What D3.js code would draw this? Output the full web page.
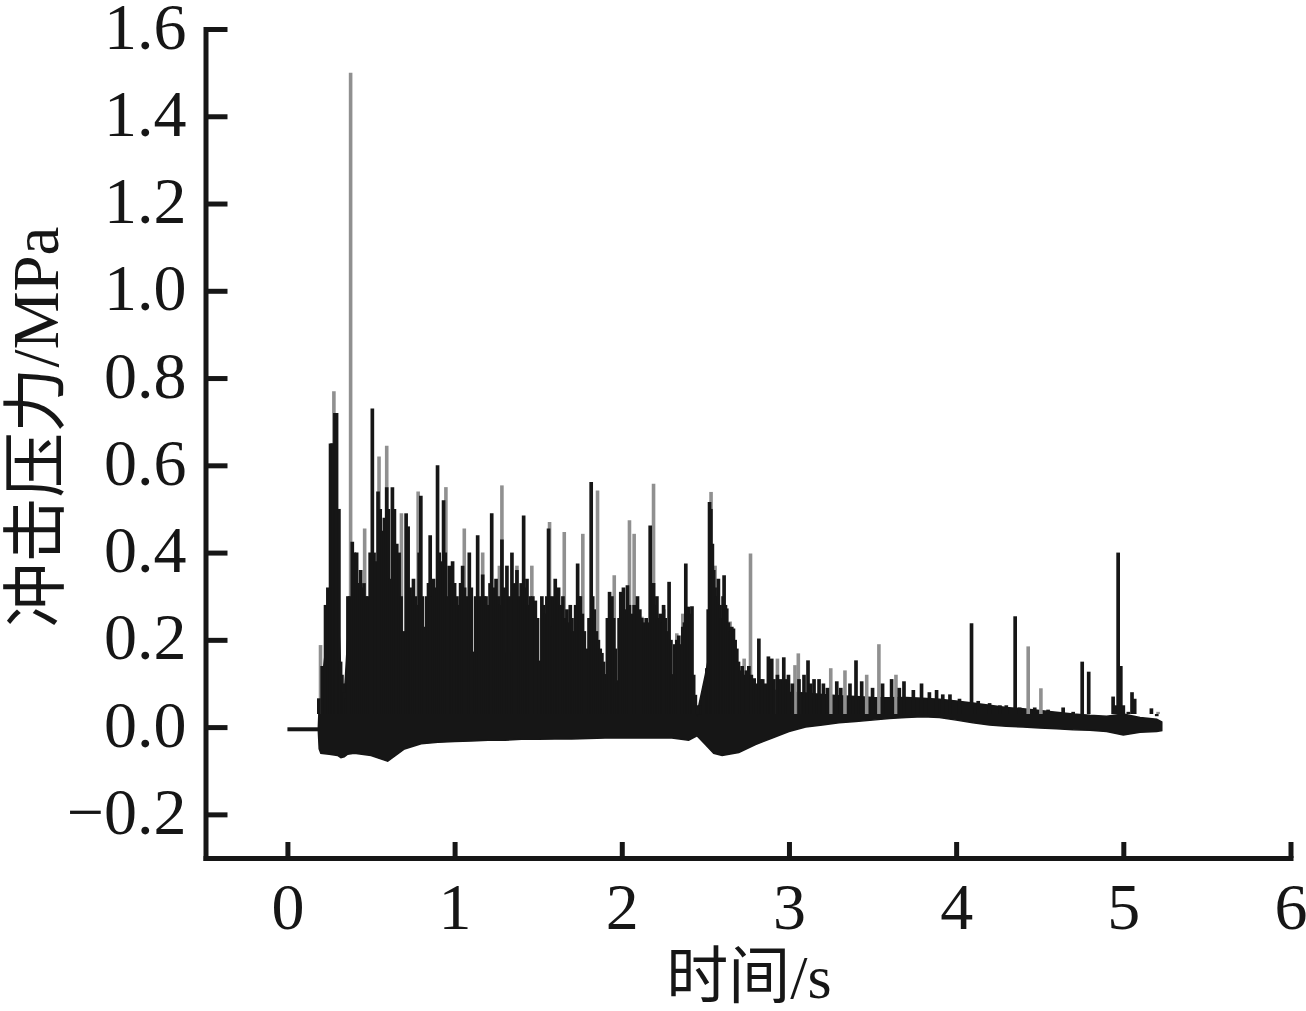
<!DOCTYPE html>
<html>
<head>
<meta charset="utf-8">
<script src="https://cdn.jsdelivr.net/npm/d3@7/dist/d3.min.js"></script>
<style>
  html, body { margin: 0; padding: 0; background: #ffffff; }
  svg { display: block; }
</style>
</head>
<body>
<script>
// ---------- data ----------
const xTicks = [0, 1, 2, 3, 4, 5, 6];
const xTickLabels = ["0", "1", "2", "3", "4", "5", "6"];
const yTicks = [-0.2, 0, 0.2, 0.4, 0.6, 0.8, 1.0, 1.2, 1.4, 1.6];
const yTickLabels = ["\u22120.2", "0.0", "0.2", "0.4", "0.6", "0.8", "1.0", "1.2", "1.4", "1.6"];
const xTitle = "时间/s";
const yTitle = "冲击压力/MPa";

// quiet pre-trigger baseline
const flatT = [0, 0.185];
const flatV = [-0.005, -0.005];

// dense core of the oscillating signal (envelope)
const bandT  = [0.185,0.19,0.2,0.25,0.3,0.32,0.34,0.36,0.4,0.5,0.6,0.7,0.8,0.9,1.0,1.1,1.2,1.3,1.4,1.5,1.6,1.7,1.8,1.9,2.0,2.1,2.2,2.3,2.4,2.45,2.5,2.55,2.6,2.7,2.8,2.9,3.0,3.1,3.2,3.3,3.4,3.5,3.6,3.7,3.8,3.9,4.0,4.1,4.2,4.3,4.4,4.5,4.6,4.7,4.8,4.9,5.0,5.1,5.2,5.23];
const bandHi = [0.0,0.05,0.08,0.25,0.3,0.12,0.07,0.2,0.22,0.24,0.25,0.2,0.22,0.22,0.22,0.17,0.18,0.17,0.17,0.15,0.16,0.15,0.15,0.12,0.1,0.13,0.13,0.12,0.08,0.03,0.12,0.22,0.2,0.12,0.09,0.085,0.08,0.078,0.075,0.072,0.07,0.068,0.067,0.068,0.066,0.064,0.06,0.055,0.05,0.045,0.042,0.038,0.034,0.03,0.027,0.025,0.03,0.022,0.018,0.012];
const bandLo = [-0.01,-0.05,-0.06,-0.062,-0.065,-0.07,-0.068,-0.062,-0.06,-0.065,-0.078,-0.05,-0.038,-0.035,-0.033,-0.032,-0.03,-0.03,-0.028,-0.028,-0.027,-0.027,-0.026,-0.025,-0.025,-0.025,-0.025,-0.025,-0.03,-0.02,-0.04,-0.06,-0.065,-0.058,-0.04,-0.025,-0.01,0.0,0.005,0.01,0.013,0.016,0.02,0.022,0.024,0.022,0.016,0.01,0.005,0.002,0.0,-0.002,-0.004,-0.006,-0.007,-0.01,-0.018,-0.012,-0.01,-0.008];

// individual peaks (black)
const peakT = [0.188,0.208,0.228,0.242,0.258,0.266,0.274,0.284,0.294,0.308,0.318,0.326,0.334,0.342,0.35,0.362,0.372,0.388,0.40,0.414,0.426,0.438,0.448,0.458,0.47,0.482,0.495,0.508,0.518,0.528,0.542,0.555,0.568,0.58,0.594,0.604,0.614,0.628,0.64,0.654,0.668,0.68,0.694,0.71,0.722,0.734,0.744,0.754,0.766,0.778,0.788,0.798,0.808,0.818,0.834,0.844,0.854,0.864,0.874,0.886,0.898,0.908,0.918,0.934,0.944,0.956,0.968,0.978,0.988,1.00,1.014,1.026,1.036,1.048,1.06,1.074,1.088,1.1,1.114,1.126,1.138,1.15,1.168,1.178,1.188,1.2,1.212,1.222,1.236,1.248,1.262,1.272,1.283,1.296,1.313,1.326,1.343,1.356,1.373,1.386,1.398,1.413,1.423,1.433,1.443,1.453,1.468,1.483,1.496,1.508,1.522,1.532,1.542,1.552,1.562,1.572,1.582,1.592,1.602,1.612,1.622,1.635,1.648,1.66,1.672,1.682,1.692,1.702,1.712,1.724,1.736,1.744,1.752,1.764,1.776,1.791,1.804,1.817,1.826,1.835,1.848,1.86,1.871,1.881,1.891,1.901,1.914,1.927,1.941,1.952,1.962,1.974,1.984,1.994,2.01,2.022,2.034,2.046,2.06,2.074,2.084,2.094,2.108,2.12,2.134,2.146,2.158,2.17,2.18,2.19,2.2,2.21,2.22,2.23,2.24,2.25,2.26,2.27,2.283,2.294,2.305,2.317,2.329,2.341,2.353,2.365,2.375,2.383,2.392,2.4,2.41,2.42,2.43,2.44,2.452,2.465,2.477,2.489,2.499,2.509,2.517,2.525,2.533,2.542,2.55,2.558,2.568,2.578,2.588,2.598,2.606,2.612,2.62,2.628,2.638,2.648,2.658,2.668,2.678,2.688,2.698,2.708,2.72,2.732,2.745,2.76,2.775,2.792,2.805,2.82,2.832,2.843,2.86,2.877,2.887,2.897,2.91,2.931,2.95,2.969,2.985,2.997,3.02,3.06,3.09,3.114,3.13,3.15,3.18,3.206,3.23,3.286,3.31,3.365,3.401,3.435,3.5,3.56,3.614,3.66,3.688,3.744,3.793,3.84,3.883,3.92,3.963,4.02,4.092,4.132,4.2,4.262,4.3,4.353,4.38,4.47,4.55,4.64,4.7,4.754,4.793,4.85,4.9,4.939,4.955,4.969,4.985,5.0,5.03,5.052,5.068,5.1,5.14,5.168,5.2];
const peakV = [0.066,0.14,0.28,0.32,0.65,0.65,0.65,0.72,0.72,0.50,0.15,0.12,0.10,0.08,0.066,0.30,0.30,0.425,0.40,0.40,0.33,0.36,0.32,0.33,0.30,0.30,0.40,0.73,0.40,0.38,0.54,0.50,0.45,0.48,0.55,0.50,0.34,0.55,0.50,0.42,0.40,0.30,0.22,0.49,0.46,0.32,0.30,0.34,0.30,0.28,0.40,0.53,0.30,0.23,0.30,0.33,0.44,0.30,0.34,0.32,0.60,0.40,0.38,0.52,0.40,0.30,0.37,0.33,0.38,0.33,0.30,0.28,0.33,0.37,0.32,0.30,0.40,0.32,0.17,0.30,0.44,0.30,0.35,0.30,0.30,0.28,0.33,0.49,0.32,0.34,0.30,0.28,0.43,0.32,0.37,0.30,0.40,0.33,0.36,0.30,0.33,0.485,0.32,0.34,0.28,0.30,0.30,0.29,0.25,0.15,0.30,0.28,0.26,0.30,0.455,0.30,0.23,0.30,0.34,0.30,0.32,0.28,0.30,0.25,0.27,0.24,0.28,0.25,0.22,0.28,0.375,0.30,0.30,0.26,0.22,0.18,0.25,0.562,0.30,0.27,0.22,0.20,0.18,0.17,0.15,0.12,0.25,0.31,0.30,0.25,0.18,0.10,0.25,0.31,0.32,0.27,0.325,0.28,0.26,0.28,0.25,0.30,0.27,0.25,0.24,0.25,0.24,0.462,0.30,0.33,0.28,0.30,0.25,0.26,0.24,0.28,0.25,0.22,0.333,0.20,0.12,0.19,0.20,0.21,0.19,0.23,0.24,0.375,0.27,0.276,0.26,0.277,0.12,0.074,0.05,0.028,0.05,0.07,0.10,0.135,0.27,0.516,0.50,0.42,0.36,0.32,0.30,0.34,0.28,0.25,0.30,0.348,0.28,0.272,0.24,0.22,0.23,0.226,0.20,0.18,0.15,0.13,0.14,0.12,0.13,0.14,0.12,0.112,0.10,0.203,0.11,0.11,0.10,0.162,0.12,0.157,0.11,0.12,0.11,0.16,0.11,0.12,0.10,0.11,0.12,0.153,0.10,0.11,0.11,0.10,0.09,0.105,0.09,0.10,0.153,0.105,0.09,0.10,0.11,0.09,0.105,0.085,0.10,0.08,0.085,0.075,0.075,0.065,0.238,0.06,0.055,0.05,0.05,0.254,0.045,0.045,0.04,0.045,0.035,0.15,0.127,0.03,0.03,0.07,0.05,0.40,0.14,0.05,0.035,0.08,0.065,0.03,0.03,0.043,0.025];

// thin light-grey spikes
const grayT = [0.198,0.278,0.378,0.462,0.548,0.594,0.682,0.782,0.948,1.058,1.168,1.268,1.283,1.373,1.462,1.568,1.656,1.767,1.855,1.955,2.046,2.074,2.12,2.19,2.252,2.329,2.365,2.534,2.558,2.648,2.732,2.77,2.931,3.036,3.056,3.25,3.335,3.465,3.538,3.64,4.431,4.507,5.208];
const grayV = [0.188,0.77,1.50,0.455,0.62,0.645,0.49,0.54,0.55,0.455,0.40,0.37,0.554,0.37,0.37,0.47,0.447,0.443,0.542,0.348,0.474,0.443,0.253,0.558,0.27,0.215,0.26,0.539,0.37,0.242,0.157,0.398,0.157,0.142,0.169,0.135,0.13,0.12,0.19,0.12,0.185,0.089,0.035];

const spikeBase = 0.03;

// ---------- drawing ----------
const W = 1306, H = 1011;
const ink = "#161616";
const svg = d3.select("body").append("svg").attr("width", W).attr("height", H);

const x = d3.scaleLinear().domain([-0.49, 6]).range([205.5, 1290.5]);
const y = d3.scaleLinear().domain([-0.3, 1.6]).range([858, 29]);

const plot = svg.append("g");

// dense core
const band = bandT.map((t, i) => ({ t, hi: bandHi[i], lo: bandLo[i] }));
plot.append("path")
  .datum(band)
  .attr("fill", ink)
  .attr("stroke", ink)
  .attr("stroke-width", 1.5)
  .attr("d", d3.area().x(d => x(d.t)).y0(d => y(d.lo)).y1(d => y(d.hi)));

// grey spikes
const barW = x(0.022) - x(0);
plot.selectAll("line.gray")
  .data(grayT.map((t, i) => ({ t, v: grayV[i] })))
  .join("line")
  .attr("class", "gray")
  .attr("x1", d => x(d.t)).attr("x2", d => x(d.t))
  .attr("y1", d => y(spikeBase)).attr("y2", d => y(d.v))
  .attr("stroke", "#909090")
  .attr("stroke-width", 3.6);

// black peaks
plot.selectAll("line.peak")
  .data(peakT.map((t, i) => ({ t, v: peakV[i] })))
  .join("line")
  .attr("class", "peak")
  .attr("x1", d => x(d.t)).attr("x2", d => x(d.t))
  .attr("y1", d => y(spikeBase)).attr("y2", d => y(d.v))
  .attr("stroke", ink)
  .attr("stroke-width", barW);

// pre-trigger flat line
plot.append("path")
  .datum(flatT.map((t, i) => ({ t, v: flatV[i] })))
  .attr("fill", "none")
  .attr("stroke", ink)
  .attr("stroke-width", 4)
  .attr("d", d3.line().x(d => x(d.t)).y(d => y(d.v)));

// axes
const fontNum = "'Liberation Serif', 'Times New Roman', serif";
const xAxis = d3.axisBottom(x)
  .tickValues(xTicks)
  .tickFormat((d, i) => xTickLabels[i])
  .tickSizeInner(-16).tickSizeOuter(0).tickPadding(24);
const yAxis = d3.axisLeft(y)
  .tickValues(yTicks)
  .tickFormat((d, i) => yTickLabels[i])
  .tickSizeInner(-22).tickSizeOuter(0).tickPadding(19);

const gx = svg.append("g").attr("transform", "translate(0,858)").call(xAxis);
const gy = svg.append("g").attr("transform", "translate(205.5,0)").call(yAxis);

[gx, gy].forEach(g => {
  g.select(".domain").attr("stroke", ink).attr("stroke-width", 5).attr("stroke-linecap", "square");
  g.selectAll(".tick line").attr("stroke", ink).attr("stroke-width", 5);
  g.selectAll(".tick text")
    .attr("fill", ink)
    .style("font-family", fontNum)
    .style("font-size", "66px");
});
gy.selectAll(".tick text").attr("dy", "0.29em");

// titles
const fontTitle = "'Liberation Serif', 'Noto Sans CJK SC', serif";
svg.append("text")
  .attr("x", 749).attr("y", 998)
  .attr("text-anchor", "middle")
  .attr("fill", ink)
  .style("font-family", fontTitle)
  .style("font-size", "62px")
  .text(xTitle);

svg.append("text")
  .attr("transform", "translate(58,427) rotate(-90)")
  .attr("text-anchor", "middle")
  .attr("fill", ink)
  .style("font-family", fontTitle)
  .style("font-size", "65px")
  .text(yTitle);
</script>
</body>
</html>
